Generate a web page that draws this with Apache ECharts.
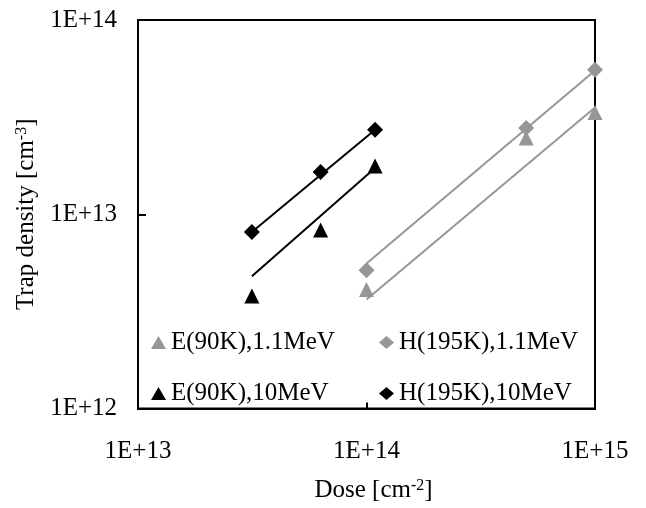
<!DOCTYPE html>
<html>
<head>
<meta charset="utf-8">
<script src="https://cdn.jsdelivr.net/npm/echarts@6/dist/echarts.min.js"></script>
<style>
html,body{margin:0;padding:0;background:#fff;}
#chart{width:646px;height:508px;}
</style>
</head>
<body>
<div id="chart"></div>
<script>
// ---- data ----
var doseHigh = [3.15e13, 6.3e13, 1.09e14];     // 10 MeV doses [cm^-2]
var doseLow = [1e14, 5e14, 1e15];              // 1.1 MeV doses [cm^-2]
var e10MeV = [3.8e12, 8.3e12, 1.77e13];        // E(90K),10MeV
var h10MeV = [8.1e12, 1.65e13, 2.72e13];       // H(195K),10MeV
var e11MeV = [4.1e12, 2.47e13, 3.34e13];       // E(90K),1.1MeV
var h11MeV = [5.15e12, 2.78e13, 5.55e13];      // H(195K),1.1MeV
// trend lines (end values at first and last dose)
var fitE10 = [4.8e12, 1.73e13];
var fitH10 = [8.1e12, 2.72e13];
var fitE11 = [3.64e12, 3.54e13];
var fitH11 = [5.58e12, 5.49e13];
var xTickValues = [1e13, 1e14, 1e15];
var xTickLabels = ['1E+13', '1E+14', '1E+15'];
var yTickValues = [1e12, 1e13, 1e14];
var yTickLabels = ['1E+12', '1E+13', '1E+14'];
var seriesNames = ['E(90K),1.1MeV', 'E(90K),10MeV', 'H(195K),1.1MeV', 'H(195K),10MeV'];

var GRAY = '#969696', BLACK = '#000000';
var FONT = 'Liberation Serif';
var FS = 25;

function pts(xs, ys) { return xs.map(function (x, i) { return [x, ys[i]]; }); }
function ends(xs, ys) { return [[xs[0], ys[0]], [xs[xs.length - 1], ys[1]]]; }
function labelFor(values, labels) {
  return function (v) {
    for (var i = 0; i < values.length; i++) {
      if (Math.abs(Math.log10(v) - Math.log10(values[i])) < 1e-6) return labels[i];
    }
    return '';
  };
}

function scatter(name, xs, ys, symbol, color, size) {
  return {
    name: name, type: 'scatter', data: pts(xs, ys), symbol: symbol,
    symbolSize: size, itemStyle: { color: color, opacity: 1 }, z: 5, clip: false
  };
}
function trend(xs, ys, color) {
  return {
    type: 'line', data: ends(xs, ys), symbol: 'none', silent: true, z: 3,
    lineStyle: { color: color, width: 2 }, clip: false
  };
}

var chart = echarts.init(document.getElementById('chart'));
chart.setOption({
  animation: false,
  textStyle: { fontFamily: FONT },
  grid: { left: 138, top: 20, right: 51, bottom: 89, show: true, borderColor: '#000', borderWidth: 2 },
  xAxis: {
    type: 'log', logBase: 10, min: 1e13, max: 1e15,
    axisLine: { show: true, lineStyle: { color: '#000', width: 2 } },
    axisTick: { show: true, inside: true, length: 6, lineStyle: { color: '#000', width: 2 } },
    minorTick: { show: false },
    splitLine: { show: false },
    axisLabel: {
      margin: 30, color: '#000', fontFamily: FONT, fontSize: FS,
      formatter: labelFor(xTickValues, xTickLabels)
    },
    name: '{a|Dose [cm}{s|-2}{a|]}',
    nameLocation: 'middle', nameGap: 69,
    nameTextStyle: {
      padding: [0, 0, 0, 14],
      rich: {
        a: { fontFamily: FONT, fontSize: FS, color: '#000' },
        s: { fontFamily: FONT, fontSize: 16, color: '#000', verticalAlign: 'top', padding: [0, 0, 10, 0] }
      }
    }
  },
  yAxis: {
    type: 'log', logBase: 10, min: 1e12, max: 1e14,
    axisLine: { show: true, lineStyle: { color: '#000', width: 2 } },
    axisTick: { show: true, inside: true, length: 8, lineStyle: { color: '#000', width: 2 } },
    minorTick: { show: false },
    splitLine: { show: false },
    axisLabel: {
      margin: 21, color: '#000', fontFamily: FONT, fontSize: FS,
      formatter: labelFor(yTickValues, yTickLabels)
    },
    name: '{a|Trap density [cm}{s|-3}{a|]}',
    nameLocation: 'middle', nameGap: 85, nameRotate: 90,
    nameTextStyle: {
      rich: {
        a: { fontFamily: FONT, fontSize: FS, color: '#000' },
        s: { fontFamily: FONT, fontSize: 16, color: '#000', verticalAlign: 'top', padding: [0, 0, 10, 0] }
      }
    }
  },
  legend: [
    {
      data: [seriesNames[0], seriesNames[1]], orient: 'vertical', left: 146, top: 325,
      itemWidth: 15, itemHeight: 13, itemGap: 26,
      textStyle: { fontFamily: FONT, fontSize: FS, color: '#000', lineHeight: 24 }
    },
    {
      data: [seriesNames[2], seriesNames[3]], orient: 'vertical', left: 374, top: 325,
      itemWidth: 15, itemHeight: 13, itemGap: 26,
      textStyle: { fontFamily: FONT, fontSize: FS, color: '#000', lineHeight: 24 }
    }
  ],
  series: [
    trend(doseLow, fitE11, GRAY),
    trend(doseLow, fitH11, GRAY),
    trend(doseHigh, fitE10, BLACK),
    trend(doseHigh, fitH10, BLACK),
    scatter(seriesNames[0], doseLow, e11MeV, 'triangle', GRAY, 15),
    scatter(seriesNames[1], doseHigh, e10MeV, 'triangle', BLACK, 15),
    scatter(seriesNames[2], doseLow, h11MeV, 'diamond', GRAY, 16),
    scatter(seriesNames[3], doseHigh, h10MeV, 'diamond', BLACK, 16)
  ]
});
</script>
</body>
</html>
